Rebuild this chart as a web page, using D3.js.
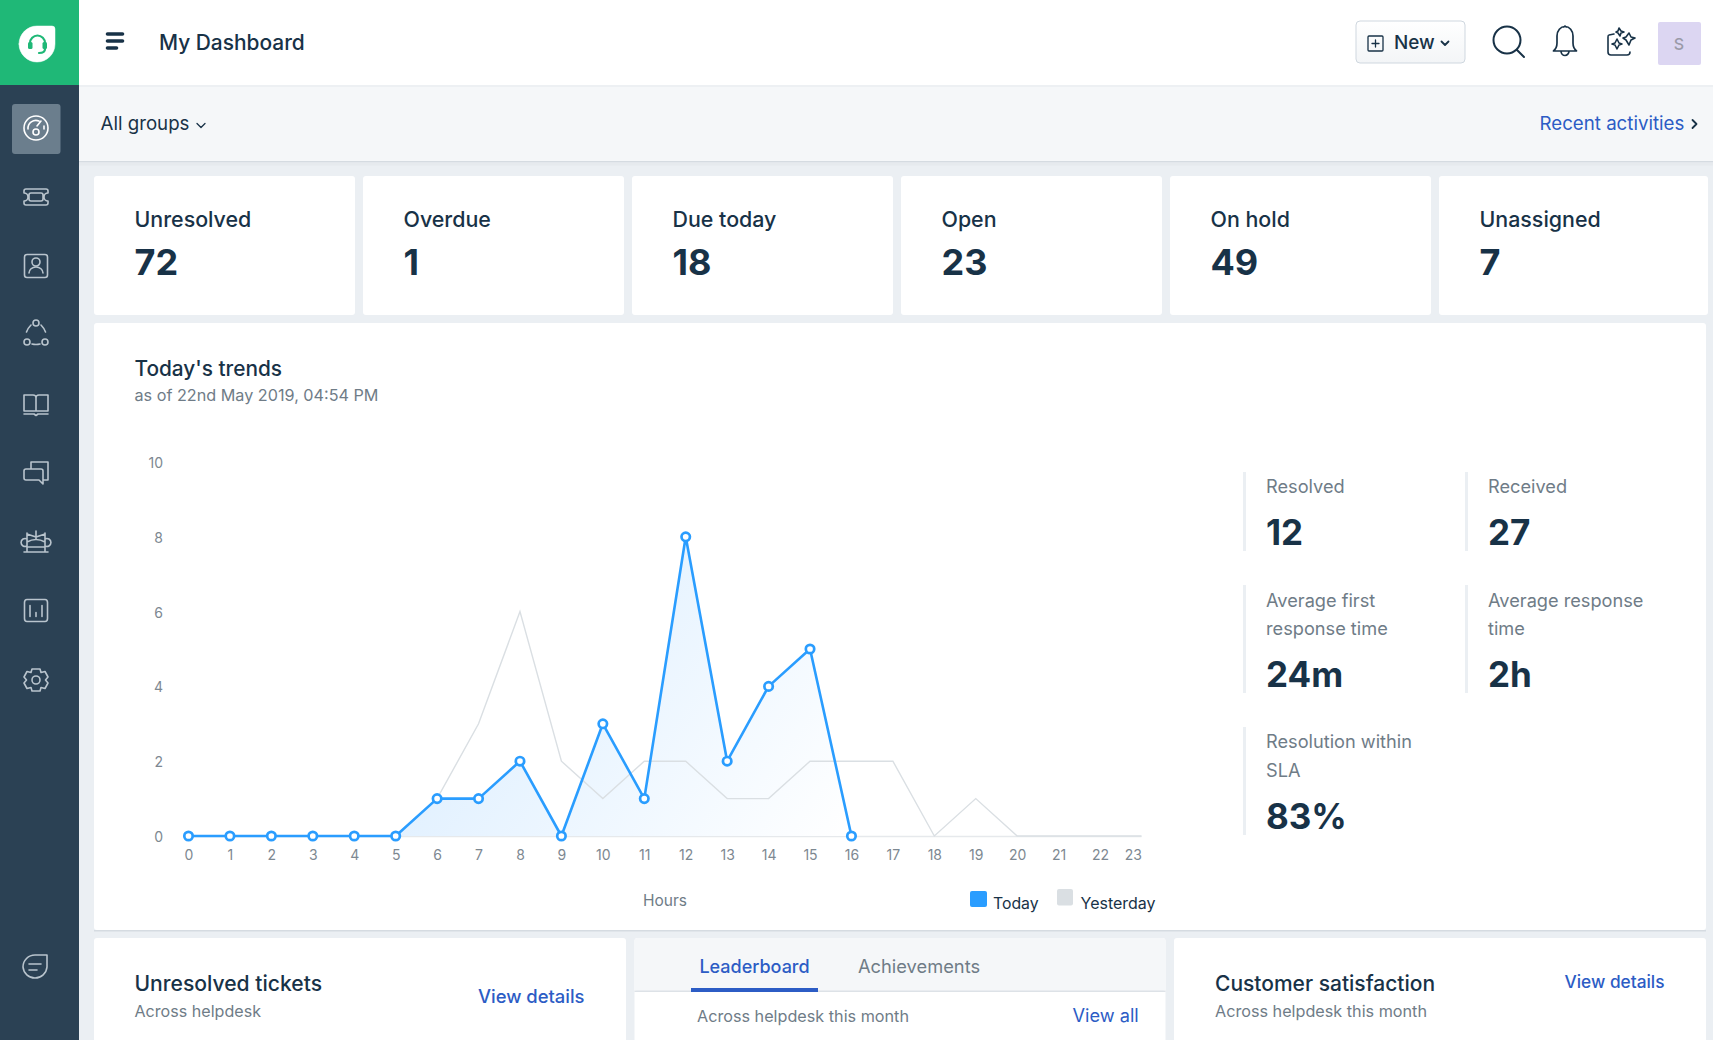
<!DOCTYPE html>
<html>
<head>
<meta charset="utf-8">
<title>My Dashboard</title>
<script src="https://cdn.jsdelivr.net/npm/d3@7"></script>
<style>
  html, body { margin: 0; padding: 0; background: #ebeff3; overflow: hidden; }
  svg { display: block; font-family: Inter, "Noto Sans", sans-serif; }
  .axis path, .axis line { display: none; }
  .axis text { font-family: Inter, sans-serif; font-size: 14px; fill: #7d8891; }
</style>
</head>
<body>
<script>
var hours = d3.range(0, 24);
var todayValues = [0, 0, 0, 0, 0, 0, 1, 1, 2, 0, 3, 1, 8, 2, 4, 5, 0];
var yesterdayValues = [0, 0, 0, 0, 0, 0, 1, 3, 6, 2, 1, 2, 2, 1, 1, 2, 2, 2, 0, 1, 0, 0, 0, 0];
var yTicks = [0, 2, 4, 6, 8, 10];
var cardLabels = ['Unresolved', 'Overdue', 'Due today', 'Open', 'On hold', 'Unassigned'];
var cardValues = ['72', '1', '18', '23', '49', '7'];
var statLabels = [['Resolved'], ['Received'], ['Average first', 'response time'], ['Average response', 'time'], ['Resolution within', 'SLA']];
var statValues = ['12', '27', '24m', '2h', '83%'];

var DARK = '#183247', GREY = '#6f7c87', LINK = '#2c5cc5', BLUE = '#2a9dff', PALE = '#dadfe3', ICON = '#b9c4cd';

var svg = d3.select('body').append('svg').attr('width', 1713).attr('height', 1040);
var defs = svg.append('defs');

function box(x, y, w, h, fill, r) {
    return svg.append('rect').attr('x', x).attr('y', y).attr('width', w).attr('height', h)
        .attr('fill', fill).attr('rx', r || 0);
}
function label(x, y, str, size, color, weight, anchor) {
    return svg.append('text').attr('x', x).attr('y', y).text(str)
        .style('font-size', size + 'px').attr('fill', color)
        .style('font-weight', weight || 400).attr('text-anchor', anchor || 'start');
}
function icon(x, y, d, color, width, fill) {
    return svg.append('path').attr('transform', 'translate(' + x + ',' + y + ')').attr('d', d)
        .attr('fill', fill || 'none').attr('stroke', color).attr('stroke-width', width || 1.6)
        .attr('stroke-linecap', 'round').attr('stroke-linejoin', 'round');
}

// page chrome
box(0, 0, 1713, 85, '#fff');
box(0, 85, 1713, 2, '#edf0f3');
box(79, 87, 1634, 74, '#f5f7f9');
box(79, 161, 1634, 1.5, '#d5dbe1');
box(79, 162.5, 1634, 3, '#e6eaee');

// sidebar
box(0, 85, 79, 955, '#2b4154');
box(0, 0, 79, 85, '#1fb877');
box(12, 104, 48.5, 50, '#6b7e8d', 3);

// logo
icon(37, 44, 'M-18,0 A18,18 0 0 1 0,-18 L15,-18 Q18,-18 18,-15 L18,0 A18,18 0 0 1 -18,0 Z', '#fff', 0.5, '#fff');
icon(37, 44, 'M-7,3 L-7,-1 A7.5,7.5 0 0 1 8,-1 L8,3 M8,5 Q8,9 2,9', '#1fb877', 2.2);
box(28, 42, 4.5, 7, '#1fb877', 1.5);
box(42.5, 42, 4.5, 7, '#1fb877', 1.5);

// sidebar icons
icon(36, 128, 'M-12,0 A12,12 0 1 1 12,0 A12,12 0 1 1 -12,0 Z M-8,1 A8,8 0 0 1 3,-7 M8,-2 L8,1 M1,-2 L5,-7 M-3,4 A3,3 0 1 1 3,4 A3,3 0 1 1 -3,4', '#fff', 1.6);
icon(36, 197, 'M-10,-8 L10,-8 Q12,-8 12,-6 L12,-4 A4,4 0 0 0 12,4 L12,6 Q12,8 10,8 L-10,8 Q-12,8 -12,6 L-12,4 A4,4 0 0 0 -12,-4 L-12,-6 Q-12,-8 -10,-8 Z M-5,-4 L5,-4 Q7,-4 7,-2 L7,2 Q7,4 5,4 L-5,4 Q-7,4 -7,2 L-7,-2 Q-7,-4 -5,-4 Z', ICON);
icon(36, 266, 'M-9,-11.5 L9,-11.5 Q11.5,-11.5 11.5,-9 L11.5,9 Q11.5,11.5 9,11.5 L-9,11.5 Q-11.5,11.5 -11.5,9 L-11.5,-9 Q-11.5,-11.5 -9,-11.5 Z M-4,-4 A4,4 0 1 1 4,-4 A4,4 0 1 1 -4,-4 M-7,7 A7,6 0 0 1 7,7', ICON);
icon(36, 333, 'M-3,-10 A3,3 0 1 1 3,-10 A3,3 0 1 1 -3,-10 M-12,9 A3,3 0 1 1 -6,9 A3,3 0 1 1 -12,9 M6,9 A3,3 0 1 1 12,9 A3,3 0 1 1 6,9 M-5,-8 Q-8,-5 -9.5,-1 M5,-8 Q8,-5 9.5,-1 M-4,11 Q0,12 4,11', ICON);
icon(36, 404, 'M-12,-9 L-3,-9 Q0,-9 0,-6 L0,7 L-12,7 Z M12,-9 L3,-9 Q0,-9 0,-6 M0,7 L12,7 L12,-9 M-12,10 L-2,10 L0,11.5 L2,10 L12,10', ICON);
icon(36, 473, 'M-5,-4 L-5,-11 L12,-11 L12,7 L8,7 M-10,-4 L5,-4 Q7,-4 7,-2 L7,11 L3,7 L-10,7 Q-12,7 -12,5 L-12,-2 Q-12,-4 -10,-4 Z', ICON);
icon(36, 541, 'M-12,11 L12,11 M-9,11 L-9,-8 M9,11 L9,-8 M0,-10 L0,-2 M-9,-7 L0,-4 L9,-7 M-9,6 L9,6 M-9,1 Q0,-4 9,1 M-9,-2 A4,4 0 1 0 -9,5 M9,-2 A4,4 0 1 1 9,5', ICON);
icon(36, 610.5, 'M-9,-11 L9,-11 Q11.5,-11 11.5,-8 L11.5,8 Q11.5,11 9,11 L-9,11 Q-11.5,11 -11.5,8 L-11.5,-8 Q-11.5,-11 -9,-11 Z M-6,6 L-6,-5 M0,6 L0,2 M6,6 L6,-5', ICON);
icon(36, 680, 'M-4,-11 L4,-11 L5,-7.5 L9,-8.5 L12,-3 L9.5,0 L12,3 L9,8.5 L5,7.5 L4,11 L-4,11 L-5,7.5 L-9,8.5 L-12,3 L-9.5,0 L-12,-3 L-9,-8.5 L-5,-7.5 Z M-4,0 A4,4 0 1 1 4,0 A4,4 0 1 1 -4,0', ICON);
icon(35, 966, 'M-12,1 A12,12 0 0 1 0,-11 L12,-11 L12,1 A12,12 0 0 1 0,12 A12,12 0 0 1 -12,1 Z M-6,-2 L6,-2 M-6,4 L2,4', ICON);

// top bar
[[107.5, 122.5, 34], [107.5, 122.5, 41], [107.5, 116.5, 48]].forEach(function (l) {
    svg.append('line').attr('x1', l[0]).attr('x2', l[1]).attr('y1', l[2]).attr('y2', l[2])
        .attr('stroke', DARK).attr('stroke-width', 3.6).attr('stroke-linecap', 'round');
});
label(159, 50, 'My Dashboard', 20.9, DARK, 500);

var btnGrad = defs.append('linearGradient').attr('id', 'btn').attr('x1', 0).attr('x2', 0).attr('y1', 0).attr('y2', 1);
btnGrad.append('stop').attr('offset', 0).attr('stop-color', '#fff');
btnGrad.append('stop').attr('offset', 1).attr('stop-color', '#f3f5f7');
box(1356, 21, 109, 42, 'url(#btn)', 4).attr('stroke', '#cfd7df').attr('stroke-width', 1);
icon(1368, 36, 'M1,0 L14,0 Q15,0 15,1 L15,14 Q15,15 14,15 L1,15 Q0,15 0,14 L0,1 Q0,0 1,0 Z M7.5,4 L7.5,11 M4,7.5 L11,7.5', DARK, 1.3);
label(1394, 49, 'New', 18.9, DARK, 500);
icon(1445, 43, 'M-3.5,-1.5 L0,2 L3.5,-1.5', DARK, 1.8);
icon(1507, 40, 'M-13.5,0 A13.5,13.5 0 1 1 13.5,0 A13.5,13.5 0 1 1 -13.5,0 M9.5,9.5 L17,17', DARK, 2);
icon(1565, 40, 'M-11.5,11 Q-8,8 -8,3 L-8,-4 A8,9.5 0 0 1 8,-4 L8,3 Q8,8 11.5,11 Z M-1,-13 L0,-14 L1,-13 M-4,11 A4,4.5 0 0 0 4,11', DARK, 1.7);
icon(1620, 40, 'M-6,-6 L-11,-5 Q-12,-5 -12,-3 L-12,12 Q-12,15 -9,15 L7,15 Q10,15 10,12 M-1,-12 L1,-9 L4,-8 L1,-7 L0,-4 L-2,-7 L-4,-8 L-2,-9 Z M-3,-1 L-1,3 L2,4 L-1,5 L-3,9 L-5,5 L-8,4 L-5,3 Z M9,-7 L11,-3 L15,-2 L11,0 L9,5 L6,0 L3,-2 L6,-3 Z', DARK, 1.6);
box(1658, 22, 43, 43, '#dcd6f2', 2);
label(1679, 50, 'S', 16, '#9a9aa8', 500, 'middle');

// group band
label(100.5, 130, 'All groups', 18.7, DARK, 400);
icon(201, 125, 'M-4,-1.5 L0,2.5 L4,-1.5', DARK, 1.3);
label(1539.5, 130, 'Recent activities', 18.7, LINK, 400);
icon(1694, 124, 'M-1.5,-4 L2.5,0 L-1.5,4', DARK, 1.8);

// summary cards
cardLabels.forEach(function (name, i) {
    var left = 94 + i * 269;
    box(left, 176, i === 5 ? 269 : 261, 139, '#fff', 3);
    label(left + 40.5, 227, name, 21.4, DARK, 500);
    label(left + 40.5, 274.5, cardValues[i], 36, DARK, 700);
});

// trends panel
box(94, 323, 1612, 607, '#fff', 3);
box(94, 930, 1612, 1.5, '#d5dbe1');
label(134.5, 376, "Today's trends", 20.8, DARK, 500);
label(134.5, 401, 'as of 22nd May 2019, 04:54 PM', 16.2, GREY, 400);

var x = d3.scalePoint().domain(hours).range([188.5, 1141.5]);
var y = d3.scaleLinear().domain([0, 10]).range([836, 462]);

var areaGrad = defs.append('linearGradient').attr('id', 'todayFill')
    .attr('gradientUnits', 'userSpaceOnUse')
    .attr('x1', x(6)).attr('y1', y(8)).attr('x2', x(16)).attr('y2', y(0));
areaGrad.append('stop').attr('offset', 0).attr('stop-color', '#d8ecff');
areaGrad.append('stop').attr('offset', 1).attr('stop-color', '#ffffff');

var axisX = d3.axisBottom(x).tickSize(0).tickPadding(0);
var axisY = d3.axisLeft(y).tickValues(yTicks).tickSize(0).tickPadding(0);
svg.append('g').attr('class', 'axis').attr('transform', 'translate(0,850)').call(axisX);
svg.append('g').attr('class', 'axis').attr('transform', 'translate(163,1)').call(axisY);
// the last hour label is pulled back inside the plot
svg.selectAll('.axis').filter(function (d, i) { return i === 0; }).selectAll('.tick:last-of-type text')
    .attr('text-anchor', 'end');

svg.append('line').attr('x1', x(0)).attr('x2', x(23)).attr('y1', y(0) + 0.5).attr('y2', y(0) + 0.5)
    .attr('stroke', '#e6e9ec').attr('stroke-width', 1.5);

svg.append('path').datum(todayValues)
    .attr('fill', 'url(#todayFill)')
    .attr('d', d3.area().x(function (d, i) { return x(hours[i]); }).y0(y(0)).y1(function (d) { return y(d); }));

svg.append('path').datum(yesterdayValues)
    .attr('fill', 'none').attr('stroke', PALE).attr('stroke-width', 1.4)
    .attr('d', d3.line().x(function (d, i) { return x(hours[i]); }).y(function (d) { return y(d); }));

svg.append('path').datum(todayValues)
    .attr('fill', 'none').attr('stroke', BLUE).attr('stroke-width', 2.6).attr('stroke-linejoin', 'round')
    .attr('d', d3.line().x(function (d, i) { return x(hours[i]); }).y(function (d) { return y(d); }));

svg.selectAll('.dot').data(todayValues).enter().append('circle')
    .attr('class', 'dot')
    .attr('cx', function (d, i) { return x(hours[i]); })
    .attr('cy', function (d) { return y(d); })
    .attr('r', 4.2).attr('fill', '#fff').attr('stroke', BLUE).attr('stroke-width', 2.7);

label(665, 906, 'Hours', 15.5, GREY, 400, 'middle');
box(970, 891, 17, 16, BLUE, 2);
label(993, 908.5, 'Today', 15.8, DARK, 400);
box(1057, 889, 16, 16.5, PALE, 2);
label(1080.5, 908.5, 'Yesterday', 16, DARK, 400);

// side stats
var statCols = [1243, 1465];
var statRows = [
    { top: 472, bottom: 551, lines: [493], value: 545 },
    { top: 585, bottom: 693, lines: [606.5, 635], value: 687 },
    { top: 727, bottom: 835, lines: [748, 776.5], value: 828.5 }
];
statLabels.forEach(function (lines, i) {
    var left = statCols[i % 2], row = statRows[Math.floor(i / 2)];
    box(left, row.top, 3, row.bottom - row.top, '#ebeff3');
    lines.forEach(function (line, j) {
        label(left + 23, row.lines[j], line, 18.2, GREY, 400);
    });
    label(left + 23, row.value, statValues[i], 35, DARK, 700);
});

// bottom panels
box(94, 938, 532, 110, '#fff', 3);
label(134.5, 990.5, 'Unresolved tickets', 21.1, DARK, 500);
label(134.5, 1017, 'Across helpdesk', 16.1, GREY, 400);
label(478, 1003, 'View details', 18.4, LINK, 500);

box(634.5, 938, 531, 110, '#fff', 3);
box(634.5, 938, 531, 53, '#f5f7f9', 3);
box(634.5, 990.5, 531, 1.5, '#dde2e7');
box(691, 988, 127, 4, LINK);
label(754.5, 972.5, 'Leaderboard', 18, LINK, 500, 'middle');
label(858, 972.5, 'Achievements', 18.3, GREY, 400);
label(697, 1022, 'Across helpdesk this month', 16.2, GREY, 400);
label(1072.5, 1022, 'View all', 18.2, LINK, 400);

box(1174, 938, 532, 110, '#fff', 3);
label(1215, 990.5, 'Customer satisfaction', 21, DARK, 500);
label(1215, 1017, 'Across helpdesk this month', 16.2, GREY, 400);
label(1564.5, 988, 'View details', 17.3, LINK, 500);
</script>
</body>
</html>
